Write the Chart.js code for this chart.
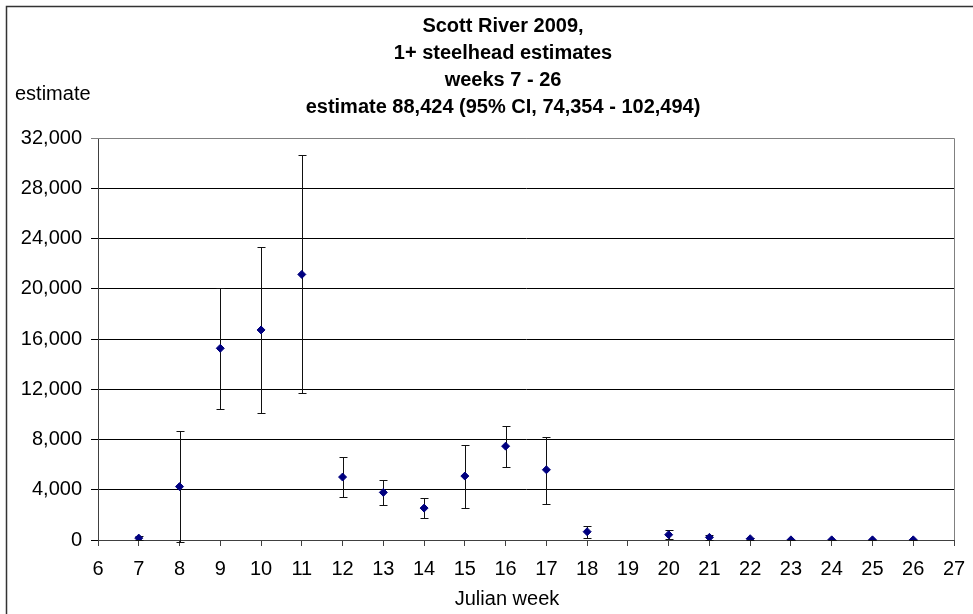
<!DOCTYPE html>
<html>
<head>
<meta charset="utf-8">
<title>Scott River 2009, 1+ steelhead estimates</title>
<script src="https://cdn.jsdelivr.net/npm/chart.js@4.4.1/dist/chart.umd.min.js"></script>
<style>
  body { margin: 0; background: #fff; }
  canvas { display: block; }
</style>
</head>
<body>
<canvas id="chart" width="973" height="614"></canvas>
<script>
// weekly 1+ steelhead estimates with 95% CI (week 19 has no estimate)
var weeks = [7, 8, 9, 10, 11, 12, 13, 14, 15, 16, 17, 18, 20, 21, 22, 23, 24, 25, 26]
var estimates = [150, 4250, 15260, 16720, 21140, 5010, 3790, 2540, 5090, 7470, 5590, 660, 420, 210, 100, 10, 10, 10, 10]
var lowerCI = [0, -150, 10410, 10070, 11710, 3440, 2780, 1720, 2570, 5830, 2890, 190, 50, 0, 20, 0, 0, 0, 0]
var upperCI = [350, 8690, 20080, 23290, 30650, 6620, 4770, 3360, 7580, 9110, 8190, 1090, 820, 420, 180, 30, 30, 30, 30]

var titleLines = [
  "Scott River 2009,",
  "1+ steelhead estimates",
  "weeks 7 - 26",
  "estimate 88,424 (95% CI, 74,354 - 102,494)",
]
var yAxisLabel = "estimate"
var xAxisLabel = "Julian week"

var FONT = "'Liberation Sans', Arial, sans-serif"

Chart.defaults.color = "#000"
Chart.defaults.font.family = FONT
Chart.defaults.font.size = 20

var points = weeks.map(function (w, i) {
  return { x: w, y: estimates[i] }
})

var errorBars = {
  id: "errorBars",
  beforeDatasetsDraw: function (chart) {
    var ctx = chart.ctx
    var xs = chart.scales.x
    var ys = chart.scales.y
    var area = chart.chartArea

    // plot area frame
    ctx.save()
    ctx.strokeStyle = "#808080"
    ctx.lineWidth = 1
    ctx.beginPath()
    ctx.moveTo(area.left, Math.round(area.top) + 0.5)
    ctx.lineTo(Math.round(area.right) + 0.5, Math.round(area.top) + 0.5)
    ctx.lineTo(Math.round(area.right) + 0.5, area.bottom)
    ctx.stroke()

    ctx.strokeStyle = "#111"
    weeks.forEach(function (w, i) {
      var px = Math.round(xs.getPixelForValue(w)) + 0.5
      var top = Math.round(ys.getPixelForValue(upperCI[i])) + 0.5
      var bot = Math.round(ys.getPixelForValue(lowerCI[i])) + 0.5
      ctx.beginPath()
      ctx.moveTo(px, top)
      ctx.lineTo(px, bot)
      ctx.moveTo(px - 4, top)
      ctx.lineTo(px + 4, top)
      ctx.moveTo(px - 4, bot)
      ctx.lineTo(px + 4, bot)
      ctx.stroke()
    })
    ctx.restore()
  },
}

var decorations = {
  id: "decorations",
  beforeDraw: function (chart) {
    var ctx = chart.ctx
    ctx.save()
    ctx.fillStyle = "#fff"
    ctx.fillRect(0, 0, chart.width, chart.height)
    ctx.strokeStyle = "#333"
    ctx.lineWidth = 1.5
    ctx.beginPath()
    ctx.moveTo(6.5, chart.height)
    ctx.lineTo(6.5, 6.5)
    ctx.lineTo(chart.width, 6.5)
    ctx.stroke()
    ctx.restore()
  },
  afterDraw: function (chart) {
    var ctx = chart.ctx
    ctx.save()
    ctx.fillStyle = "#000"
    ctx.textAlign = "center"
    ctx.textBaseline = "alphabetic"
    ctx.font = "bold 20px " + FONT
    titleLines.forEach(function (line, i) {
      ctx.fillText(line, 503, 32 + i * 27)
    })
    ctx.font = "20px " + FONT
    ctx.fillText(xAxisLabel, 507, 605)
    ctx.textAlign = "left"
    ctx.fillText(yAxisLabel, 15, 100)
    ctx.restore()
  },
}

new Chart(document.getElementById("chart"), {
  type: "scatter",
  data: {
    datasets: [
      {
        data: points,
        pointStyle: "rectRot",
        pointRadius: 4,
        pointHoverRadius: 4,
        backgroundColor: "#000080",
        borderColor: "#000080",
        borderWidth: 1,
      },
    ],
  },
  options: {
    responsive: false,
    animation: false,
    events: [],
    layout: {
      padding: { top: 138, left: 0, right: 19, bottom: 0 },
    },
    plugins: {
      legend: { display: false },
      title: { display: false },
      tooltip: { enabled: false },
    },
    scales: {
      x: {
        type: "linear",
        min: 6,
        max: 27,
        afterFit: function (scale) {
          scale.height = 74
        },
        ticks: {
          stepSize: 1,
          autoSkip: false,
          maxRotation: 0,
          padding: 4,
          // tall line box keeps the labels low without widening the side padding
          font: { size: 20, lineHeight: 1.9 },
          color: "#000",
        },
        grid: {
          drawOnChartArea: false,
          drawTicks: true,
          tickLength: 6,
          color: "#404040",
        },
        border: { color: "#404040" },
      },
      y: {
        min: 0,
        max: 32000,
        afterFit: function (scale) {
          scale.width = 98
        },
        ticks: {
          stepSize: 4000,
          padding: 9,
          color: "#000",
          callback: function (v) {
            return v.toLocaleString("en-US")
          },
        },
        grid: {
          drawTicks: true,
          tickLength: 7,
          color: function (c) {
            return c.tick && c.tick.value === 32000 ? "#808080" : "#000"
          },
        },
        border: { color: "#404040" },
      },
    },
  },
  plugins: [decorations, errorBars],
})
</script>
</body>
</html>
